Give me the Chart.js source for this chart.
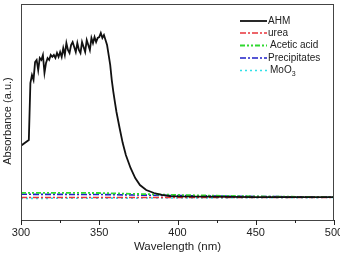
<!DOCTYPE html>
<html>
<head>
<meta charset="utf-8">
<script src="https://cdn.jsdelivr.net/npm/chart.js@4.4.1/dist/chart.umd.min.js"></script>
<style>
  html, body { margin: 0; padding: 0; background: #fff; }
  #wrap { width: 340px; height: 254px; }
</style>
</head>
<body>
<div id="wrap"><canvas id="uvChart"></canvas></div>
<script>
// wavelengths (nm) and absorbance (a.u.)
var ahmX = [300, 305, 306, 307, 308, 309, 310, 311, 312, 313, 314, 315, 316, 317, 318, 319, 320,
  321, 322, 323, 324, 325, 326, 327, 328, 329, 330, 331, 332, 333, 334, 335, 336, 337, 338, 339, 340,
  341, 342, 343, 344, 345, 346, 347, 348, 349, 350, 351, 352, 353, 354, 355, 356, 357, 358, 359, 360,
  361, 363, 365, 367, 370, 373, 376, 380, 385, 390, 395, 400, 450, 500];
var ahmY = [0.344, 0.370, 0.634, 0.671, 0.648, 0.731, 0.741, 0.694, 0.750, 0.741, 0.764, 0.681, 0.727,
  0.750, 0.741, 0.764, 0.755, 0.764, 0.750, 0.773, 0.755, 0.778, 0.755, 0.796, 0.764, 0.819, 0.787,
  0.773, 0.810, 0.824, 0.801, 0.778, 0.819, 0.787, 0.773, 0.824, 0.801, 0.778, 0.833, 0.810, 0.787,
  0.843, 0.819, 0.847, 0.824, 0.843, 0.847, 0.866, 0.843, 0.856, 0.833, 0.810, 0.764, 0.718, 0.648,
  0.593, 0.546, 0.500, 0.426, 0.356, 0.301, 0.241, 0.194, 0.162, 0.139, 0.125, 0.116, 0.111, 0.109,
  0.106, 0.106];

var flatX = [300, 350, 400, 450, 500];
var ureaY = [0.104, 0.104, 0.104, 0.104, 0.104];
var aceticY = [0.126, 0.125, 0.116, 0.109, 0.106];
var precipY = [0.119, 0.118, 0.113, 0.109, 0.106];
var moo3Y = [0.100, 0.101, 0.102, 0.103, 0.104];

var xTicks = [300, 350, 400, 450, 500];
var FONT = "'Liberation Sans', Arial, sans-serif";

function pts(xs, ys) {
  return xs.map(function (x, i) { return { x: x, y: ys[i] }; });
}

// frame, minor ticks, y title and legend like the origin plot
var framePlugin = {
  id: "frame",
  afterDraw: function (chart) {
    var c = chart.ctx, a = chart.chartArea, xs = chart.scales.x;
    c.save();
    c.strokeStyle = "#444";
    c.lineWidth = 1;
    c.strokeRect(a.left + 0.5, a.top + 0.5, a.right - a.left - 1, a.bottom - a.top);
    c.strokeStyle = "#222";
    for (var v = 300; v <= 500; v += 25) {
      var px = Math.round(xs.getPixelForValue(v)) + 0.5;
      c.beginPath();
      c.moveTo(px, a.bottom);
      c.lineTo(px, a.bottom + (v % 50 === 0 ? 5 : 3));
      c.stroke();
    }
    // y title
    c.save();
    c.translate(7.5, 121);
    c.rotate(-Math.PI / 2);
    c.fillStyle = "#222";
    c.font = "11px " + FONT;
    c.textAlign = "center";
    c.textBaseline = "middle";
    c.fillText("Absorbance (a.u.)", 0, 0);
    c.restore();
    // legend
    var rows = [21, 33, 45.5, 58, 70.5];
    var names = ["AHM", "urea", "Acetic acid", "Precipitates", "MoO"];
    var textX = [268, 268, 270, 268, 270];
    chart.data.datasets.forEach(function (ds, i) {
      c.strokeStyle = ds.borderColor;
      c.lineWidth = ds.borderWidth;
      c.setLineDash(ds.borderDash || []);
      c.beginPath();
      c.moveTo(240, rows[i]);
      c.lineTo(267, rows[i]);
      c.stroke();
      c.setLineDash([]);
      c.fillStyle = "#222";
      c.font = "10px " + FONT;
      c.textBaseline = "middle";
      c.fillText(names[i], textX[i], rows[i]);
      if (i === 4) {
        var w = c.measureText(names[i]).width;
        c.font = "7px " + FONT;
        c.fillText("3", textX[i] + w, rows[i] + 4);
      }
    });
    c.restore();
  }
};

var ctx = document.getElementById("uvChart").getContext("2d");
var uvChart = new Chart(ctx, {
  type: "line",
  plugins: [framePlugin],
  data: {
    datasets: [
      { label: "AHM", data: pts(ahmX, ahmY), borderColor: "#111", borderWidth: 1.8 },
      { label: "urea", data: pts(flatX, ureaY), borderColor: "#e8333a", borderWidth: 1.6, borderDash: [6, 2, 2, 2] },
      { label: "Acetic acid", data: pts(flatX, aceticY), borderColor: "#30d830", borderWidth: 1.8, borderDash: [5, 2, 2, 2, 2, 2] },
      { label: "Precipitates", data: pts(flatX, precipY), borderColor: "#2020c8", borderWidth: 1.6, borderDash: [6, 2, 2, 2] },
      { label: "MoO3", data: pts(flatX, moo3Y), borderColor: "#30e0e8", borderWidth: 1.6, borderDash: [2, 3] }
    ]
  },
  options: {
    responsive: true,
    maintainAspectRatio: false,
    animation: false,
    events: [],
    layout: { autoPadding: false, padding: { top: 4, right: 6, left: 0, bottom: 0 } },
    elements: { point: { radius: 0 }, line: { tension: 0, fill: false } },
    plugins: { legend: { display: false }, tooltip: { enabled: false } },
    scales: {
      x: {
        type: "linear",
        min: 300,
        max: 500,
        afterFit: function (s) { s.height = 34; s.paddingLeft = 0; s.paddingRight = 0; },
        afterBuildTicks: function (s) { s.ticks = xTicks.map(function (v) { return { value: v }; }); },
        grid: { display: false, drawTicks: false },
        border: { display: true, color: "#222", width: 1 },
        ticks: { padding: 6, color: "#222", font: { family: FONT, size: 11 }, maxRotation: 0 },
        title: { display: true, text: "Wavelength (nm)", color: "#222", padding: 0, font: { family: FONT, size: 11.5 } }
      },
      y: {
        min: 0,
        max: 1,
        afterFit: function (s) { s.width = 21; },
        grid: { display: false, drawTicks: false },
        border: { display: true, color: "#222", width: 1 },
        ticks: { display: false },
        title: { display: false }
      }
    }
  }
});
</script>
</body>
</html>
